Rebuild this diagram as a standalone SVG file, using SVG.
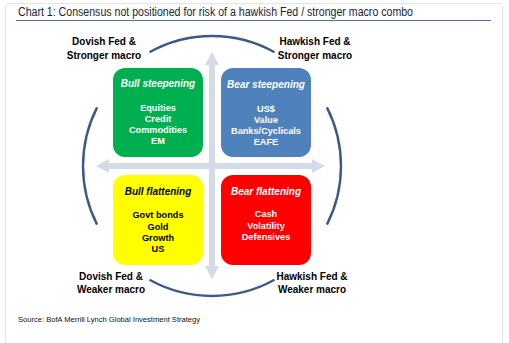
<svg xmlns="http://www.w3.org/2000/svg" width="509" height="343" viewBox="0 0 509 343">
<style>
.frame{fill:#ffffff;stroke:#e4e4e4;stroke-width:1.2}
.title{font-family:"Liberation Sans",Arial,sans-serif;font-size:12px;fill:#1c2433}
.src{font-family:"Liberation Sans",Arial,sans-serif;font-size:8px;fill:#111111}
.corner{font-family:"Liberation Sans",Arial,sans-serif;font-size:10px;font-weight:bold;fill:#000000;text-anchor:middle}
.bt{font-family:"Liberation Sans",Arial,sans-serif;font-size:10px;font-weight:bold;font-style:italic;text-anchor:middle}
.bi{font-family:"Liberation Sans",Arial,sans-serif;font-size:9.2px;font-weight:bold;text-anchor:middle}
.w{fill:#ffffff}
.k{fill:#000000}
.arc{fill:none;stroke:#3b5a8a;stroke-width:2.4}
.axis{fill:#d3dbe8}
</style>
<rect class="frame" x="5.5" y="3.5" width="497" height="360" rx="4"/>
<text class="title" x="18" y="16" textLength="395" lengthAdjust="spacingAndGlyphs">Chart 1:  Consensus not positioned for risk of a hawkish Fed / stronger macro combo</text>
<line x1="16" y1="20.5" x2="491" y2="20.5" stroke="#4f6fa0" stroke-width="1.2"/>
<g id="connectors">
<path class="axis" d="M212,52 L219,65 L215,65 L215,266 L219,266 L212,279 L205,266 L209,266 L209,65 L205,65 Z"/>
<path class="axis" d="M96,166 L109,159 L109,163 L312,163 L312,159 L325,166 L312,173 L312,169 L109,169 L109,173 Z"/>
<path class="arc" d="M149.5,52.2 A129,129 0 0 1 274.5,52.2"/>
<path class="arc" d="M326.9,107.4 A129,129 0 0 1 326.9,224.6"/>
<path class="arc" d="M274.5,279.8 A129,129 0 0 1 149.5,279.8"/>
<path class="arc" d="M97.1,224.6 A129,129 0 0 1 97.1,107.4"/>
</g>
<g id="bull-steepening">
<rect x="113" y="68" width="90" height="89" rx="12" fill="#00b050"/>
<text class="bt w" x="158" y="87">Bull steepening</text>
<text class="bi w" x="158" y="111">Equities</text>
<text class="bi w" x="158" y="122">Credit</text>
<text class="bi w" x="158" y="133">Commodities</text>
<text class="bi w" x="158" y="144">EM</text>
</g>
<g id="bear-steepening">
<rect x="221" y="68" width="90" height="89" rx="12" fill="#4f81bd"/>
<text class="bt w" x="266" y="88">Bear steepening</text>
<text class="bi w" x="266" y="112">US$</text>
<text class="bi w" x="266" y="123">Value</text>
<text class="bi w" x="266" y="134">Banks/Cyclicals</text>
<text class="bi w" x="266" y="145">EAFE</text>
</g>
<g id="bull-flattening">
<rect x="113" y="175" width="90" height="90" rx="12" fill="#ffff00"/>
<text class="bt k" x="158" y="195">Bull flattening</text>
<text class="bi k" x="158" y="218">Govt bonds</text>
<text class="bi k" x="158" y="230">Gold</text>
<text class="bi k" x="158" y="241">Growth</text>
<text class="bi k" x="158" y="252">US</text>
</g>
<g id="bear-flattening">
<rect x="221" y="175" width="90" height="90" rx="12" fill="#ff0000"/>
<text class="bt w" x="266" y="195">Bear flattening</text>
<text class="bi w" x="266" y="217">Cash</text>
<text class="bi w" x="266" y="229">Volatility</text>
<text class="bi w" x="266" y="240">Defensives</text>
</g>
<g id="label-top-left">
<text class="corner" x="104" y="45">Dovish Fed &amp;</text>
<text class="corner" x="104" y="59">Stronger macro</text>
</g>
<g id="label-top-right">
<text class="corner" x="315" y="45">Hawkish Fed &amp;</text>
<text class="corner" x="315" y="59">Stronger macro</text>
</g>
<g id="label-bottom-left">
<text class="corner" x="111" y="280">Dovish Fed &amp;</text>
<text class="corner" x="111" y="293">Weaker macro</text>
</g>
<g id="label-bottom-right">
<text class="corner" x="312" y="280">Hawkish Fed &amp;</text>
<text class="corner" x="312" y="293">Weaker macro</text>
</g>
<text class="src" x="18" y="322" textLength="182" lengthAdjust="spacingAndGlyphs">Source: BofA Merrill Lynch Global Investment Strategy</text>
</svg>
